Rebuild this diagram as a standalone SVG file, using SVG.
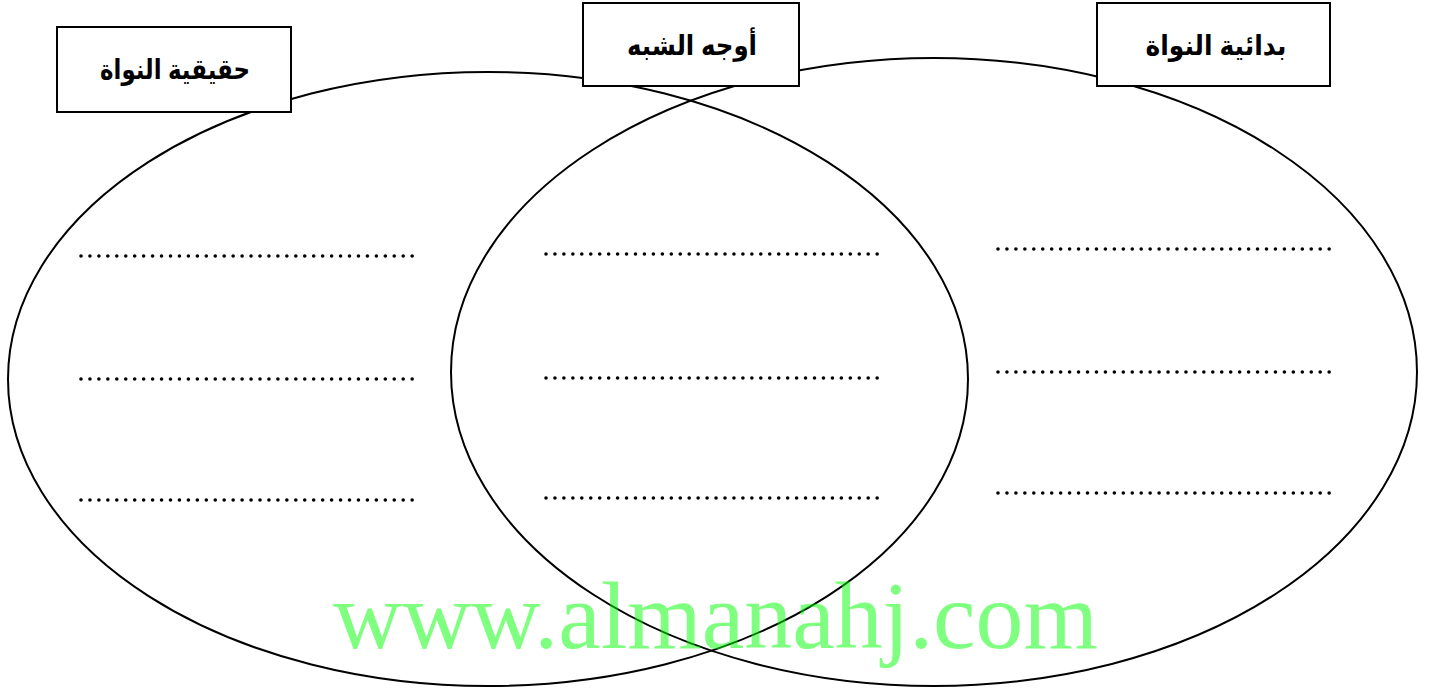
<svg xmlns="http://www.w3.org/2000/svg" width="1429" height="691" viewBox="0 0 1429 691">
<style>
.ell{fill:none;stroke:#000;stroke-width:2}
.box{fill:#fff;stroke:#000;stroke-width:2}
.lbl{font-family:"Liberation Sans",Arial,"DejaVu Sans",sans-serif;font-weight:bold;font-size:28px;fill:#000;text-anchor:middle}
.dots{stroke:#000;stroke-width:3.6;stroke-linecap:round;stroke-dasharray:0 8.95;fill:none}
</style>
<rect width="1429" height="691" fill="#fff"/>
<g id="circles">
<ellipse id="left-set" class="ell" cx="488" cy="379" rx="480" ry="307"/>
<ellipse id="right-set" class="ell" cx="934" cy="372" rx="483" ry="314"/>
</g>
<g id="node-eukaryote">
<rect class="box" x="57" y="27" width="234" height="85"/>
<text class="lbl" x="175" y="79" direction="rtl" textLength="150" lengthAdjust="spacingAndGlyphs">حقيقية النواة</text>
</g>
<g id="node-similarities">
<rect class="box" x="583" y="3" width="216" height="83"/>
<text class="lbl" x="692" y="55" direction="rtl" textLength="130" lengthAdjust="spacingAndGlyphs">أوجه الشبه</text>
</g>
<g id="node-prokaryote">
<rect class="box" x="1097" y="3" width="233" height="83"/>
<text class="lbl" x="1216" y="55" direction="rtl" textLength="141" lengthAdjust="spacingAndGlyphs">بدائية النواة</text>
</g>
<g id="lines">
<path class="dots" d="M81 256H414M81 379H414M81 500H414"/>
<path class="dots" d="M546 254H879M546 378H879M546 498H879"/>
<path class="dots" d="M998 249H1331M998 372H1331M998 493H1331"/>
</g>
<text x="333" y="648" font-family="Liberation Serif,Times New Roman,serif" font-size="95" fill="#00ff00" fill-opacity="0.5" textLength="765" lengthAdjust="spacingAndGlyphs">www.almanahj.com</text>
</svg>
